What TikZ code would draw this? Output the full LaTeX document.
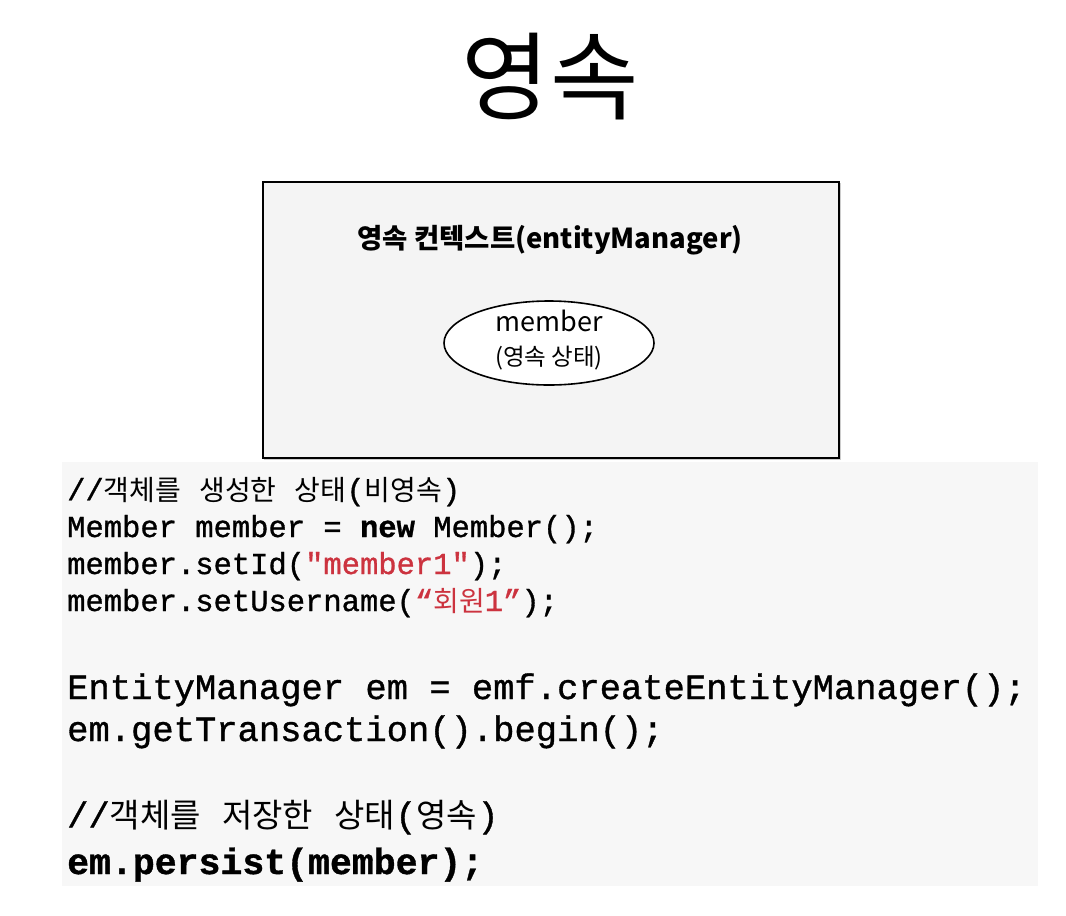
\documentclass[tikz,border=0pt]{standalone}
\usepackage{fontspec}
\usetikzlibrary{shapes.geometric}
\setmainfont{Noto Sans CJK KR}
\newfontfamily\kr{Noto Sans CJK KR}
\newfontfamily\mono[FakeBold=1]{Liberation Mono}
\definecolor{codered}{RGB}{204,51,63}
\definecolor{boxfill}{RGB}{244,244,244}
\definecolor{codebg}{RGB}{247,247,247}
\newcommand{\KA}[1]{{\kr\fontsize{28}{28}\selectfont #1}}
\newcommand{\KB}[1]{{\kr\fontsize{33}{33}\selectfont #1}}
\begin{document}
\begin{tikzpicture}[x=1pt,y=-1pt,
  codeA/.style={anchor=base west, inner sep=0pt, font=\mono\fontsize{30.5}{30.5}\selectfont},
  codeB/.style={anchor=base west, inner sep=0pt, font=\mono\fontsize{35.5}{35.5}\selectfont},
  codeC/.style={anchor=base west, inner sep=0pt, font=\mono\bfseries\fontsize{36.5}{36.5}\selectfont}]
\useasboundingbox (0,0) rectangle (1066,916);
\fill[white] (0,0) rectangle (1066,916);
% title
\node[anchor=base, inner sep=0pt, font=\kr\fontsize{96}{96}\selectfont] (title) at (550,112) {영속};
% context box
\fill[gray!40] (264,183) rectangle (841,460);
\node[draw=black, line width=2pt, fill=boxfill, minimum width=576pt, minimum height=276pt, inner sep=0pt, anchor=north west] (ctx) at (262,181) {};
\node[anchor=base, inner sep=0pt, font=\kr\bfseries\fontsize{27.5}{27.5}\selectfont] (ctxlabel) at (550,248) {영속 컨텍스트(entityManager)};
\node[draw=black, line width=1.6pt, fill=white, ellipse, minimum width=210pt, minimum height=84pt, inner sep=0pt] (member) at (549,343) {};
\node[anchor=base, inner sep=0pt, font=\kr\fontsize{27}{27}\selectfont] (mlabel) at (549,331) {member};
\node[anchor=base, inner sep=0pt, font=\kr\fontsize{23.5}{23.5}\selectfont] (mstate) at (549,365) {(영속 상태)};
% code background
\fill[codebg] (62,462) rectangle (1038,886);
% code
\node[codeA] (l1) at (67,500) {//\KA{객체를} \KA{생성한} \KA{상태}(\KA{비영속})};
\node[codeA] (l2) at (67,537) {Member member = {\bfseries new} Member();};
\node[codeA] (l3) at (67,574) {member.setId(\textcolor{codered}{"member1"});};
\node[codeA] (l4) at (67,611) {member.setUsername(\textcolor{codered}{“\KA{회원}1”});};
\node[codeB] (l5) at (67,699) {EntityManager em = emf.createEntityManager();};
\node[codeB] (l6) at (67,741) {em.getTransaction().begin();};
\node[codeB] (l7) at (67,827) {//\KB{객체를} \KB{저장한} \KB{상태}(\KB{영속})};
\node[codeC] (l8) at (67,874) {em.persist(member);};
\end{tikzpicture}
\end{document}
